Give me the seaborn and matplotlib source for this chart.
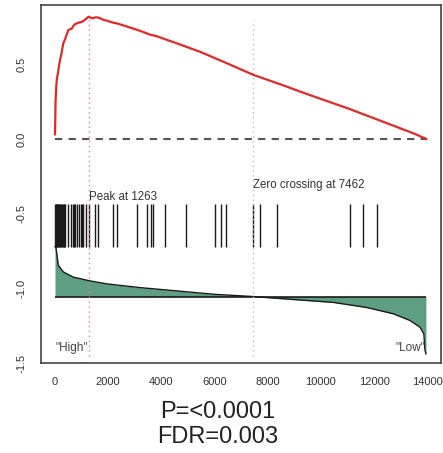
import numpy as np
import pandas as pd
import matplotlib
matplotlib.use('Agg')
import matplotlib.pyplot as plt
import seaborn as sns

sns.set_style('white')
plt.rcParams['font.family'] = ['Liberation Sans', 'DejaVu Sans']

# running enrichment score
es_rank = [0, 20, 50, 75, 110, 150, 190, 250, 310, 380, 440, 500, 560, 630, 700, 760,
           820, 900, 1000, 1060, 1130, 1200, 1263, 1350, 1440, 1504, 1600, 1690, 1800,
           2000, 2180, 2320, 2600, 2940, 3200, 3570, 3800, 4200, 4600, 5450, 6500, 7460,
           8500, 9500, 10460, 11100, 11720, 12400, 12970, 13500, 13970]
es_score = [0.03, 0.25, 0.36, 0.41, 0.44, 0.49, 0.53, 0.58, 0.64, 0.67, 0.70, 0.73, 0.735,
            0.74, 0.76, 0.77, 0.775, 0.78, 0.785, 0.79, 0.80, 0.81, 0.82, 0.812, 0.81,
            0.815, 0.815, 0.81, 0.80, 0.79, 0.78, 0.775, 0.76, 0.74, 0.725, 0.70, 0.69,
            0.665, 0.64, 0.585, 0.505, 0.43, 0.365, 0.30, 0.24, 0.20, 0.158, 0.112,
            0.073, 0.037, 0.0]

# gene set hits
hits = [0, 20, 40, 60, 85, 110, 140, 170, 200, 230, 260, 290, 320, 350, 375,
        500, 590, 688, 714, 752, 816, 914, 959, 1004, 1064, 1154, 1263,
        1504, 1628, 2180, 2320, 3071, 3447, 3598, 3673, 4135, 4917,
        6026, 6233, 6429, 7455, 7718, 8335, 11090, 11590, 12124]

# ranked metric (shifted to the lower panel)
metric_rank = [0, 38, 124, 312, 688, 1316, 1943, 3195, 4447, 6000, 7462, 9211, 10463,
               11717, 12718, 13346, 13722, 13872, 13910, 13950]
metric_value = [-0.72, -0.73, -0.845, -0.89, -0.925, -0.95, -0.97, -0.995, -1.015, -1.04,
                -1.055, -1.078, -1.094, -1.128, -1.17, -1.215, -1.26, -1.305, -1.41, -1.44]
baseline = -1.055

peak = 1263
zero_cross = 7462
n_genes = 14000
x_ticks = [0, 2000, 4000, 6000, 8000, 10000, 12000, 14000]
y_ticks = [-1.5, -1.0, -0.5, 0.0, 0.5]

es = pd.DataFrame({'rank': es_rank, 'score': es_score})
met = pd.DataFrame({'rank': metric_rank, 'value': metric_value})

fig = plt.figure(figsize=(4.43, 4.53), dpi=100)
ax = fig.add_axes([40.7 / 443, 1 - 363 / 453, 400.3 / 443, 358.3 / 453])

# metric fill
ax.fill_between(met['rank'], met['value'], baseline, color='#5e9e82', lw=0)
sns.lineplot(data=met, x='rank', y='value', ax=ax, color='#1a1a1a', lw=1.0,
             estimator=None)
ax.hlines(baseline, 0, met['rank'].iloc[-1], color='#1a1a1a', lw=1.2)

# hits
ax.vlines(hits, -0.725, -0.436, color='#1a1a1a', lw=1.0)

# peak / zero crossing
ax.vlines(peak, -1.45, 0.81, color='#e8807f', lw=1.0, linestyles=(0, (1, 2.5)))
ax.vlines(zero_cross, -1.45, 0.80, color='#bdbdbd', lw=1.0, linestyles=(0, (1, 2.5)))
ax.hlines(0, 0, n_genes, color='#555555', lw=1.5, linestyles=(0, (3.5, 3)))

sns.lineplot(data=es, x='rank', y='score', ax=ax, color='#e02a2a', lw=1.6,
             estimator=None)

ax.text(peak, -0.39, 'Peak at %d' % peak, fontsize=8.3, color='#333333',
        ha='left', va='center')
ax.text(zero_cross, -0.31, 'Zero crossing at %d' % zero_cross, fontsize=8.3,
        color='#333333', ha='left', va='center')
ax.text(0, -1.40, '"High"', fontsize=8.5, color='#444444', ha='left', va='center')
ax.text(13930, -1.40, '"Low"', fontsize=8.5, color='#444444', ha='right', va='center')

ax.set_xlim(-538, 14516)
ax.set_ylim(-1.5, 0.90)
ax.set_xticks(x_ticks)
ax.set_yticks(y_ticks)
ax.set_xticklabels([str(t) for t in x_ticks])
ax.set_yticklabels(['%.1f' % t for t in y_ticks], rotation=90, va='center')
ax.set_xlabel('')
ax.set_ylabel('')
ax.tick_params(axis='both', length=6, width=1, color='#444444', labelsize=8,
               labelcolor='#333333', direction='out')
ax.tick_params(axis='x', pad=4)
ax.tick_params(axis='y', pad=4)
for s in ax.spines.values():
    s.set_color('#444444')
    s.set_linewidth(1.2)

fig.text(0.492, 0.091, 'P=<0.0001', fontsize=17, color='#222222', ha='center', va='center')
fig.text(0.492, 0.036, 'FDR=0.003', fontsize=17, color='#222222', ha='center', va='center')

fig.savefig('out.png', dpi=100)
